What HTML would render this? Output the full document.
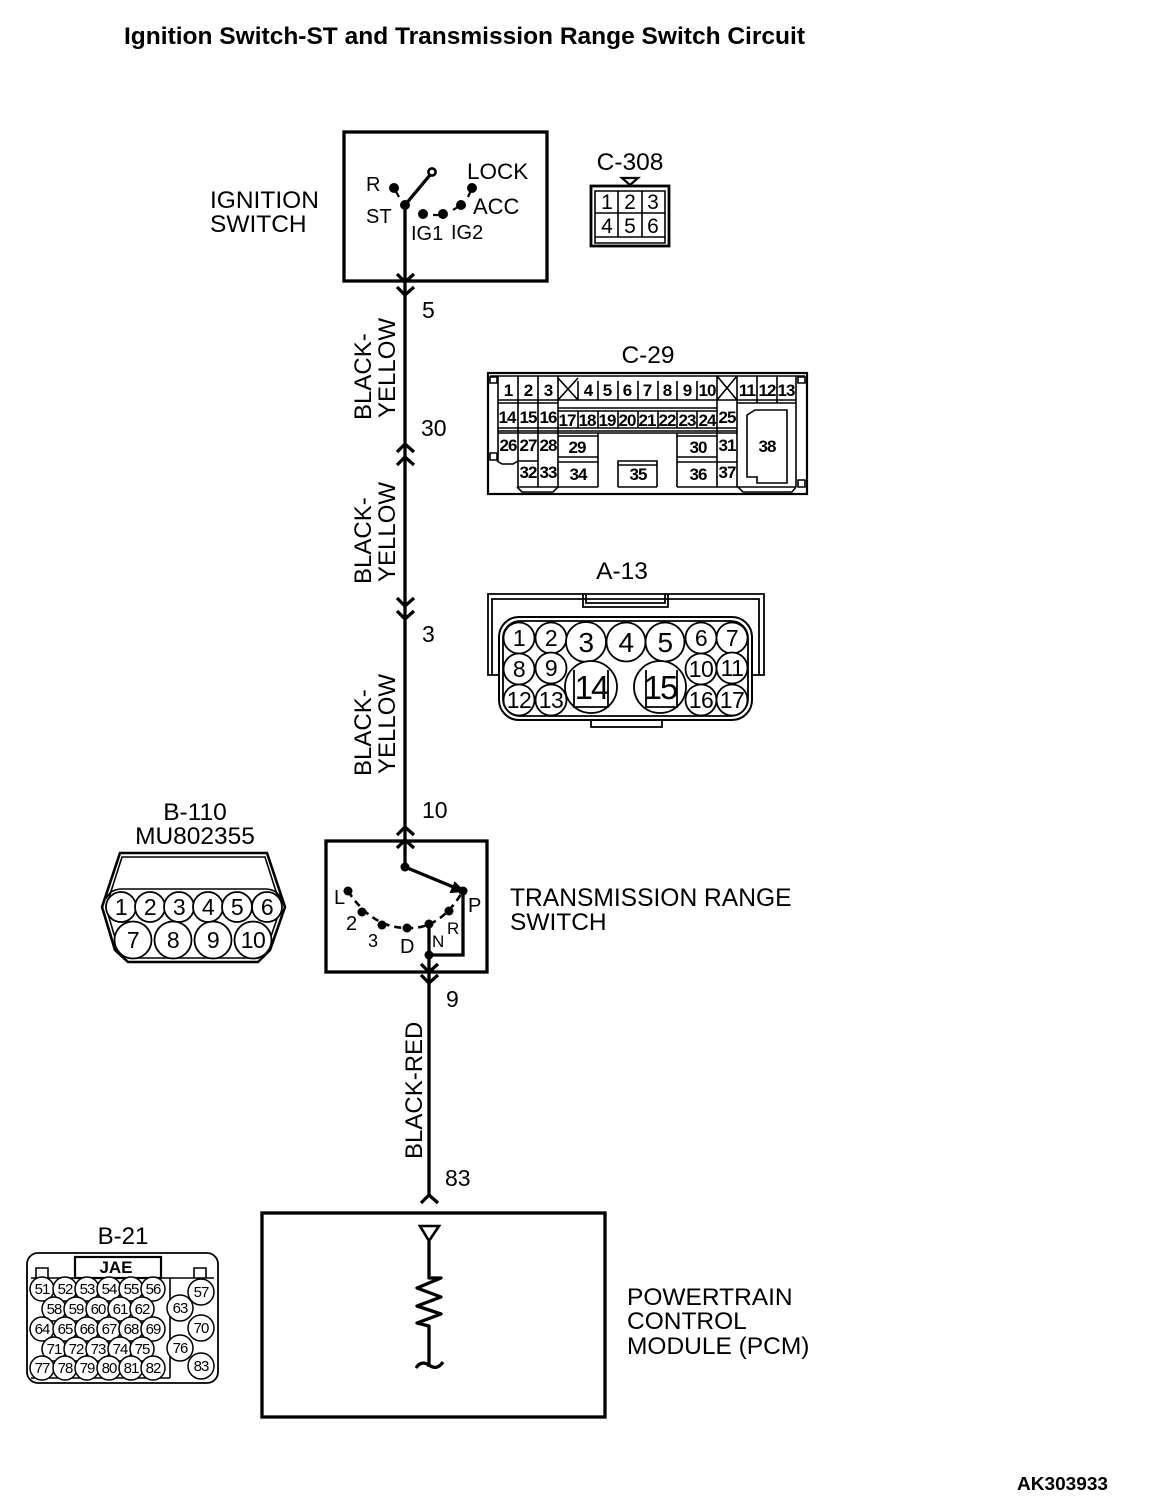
<!DOCTYPE html>
<html><head><meta charset="utf-8"><style>
html,body{margin:0;padding:0;background:#fff}
svg{display:block}
text{font-family:"Liberation Sans",sans-serif;fill:#000;stroke:none}
.m{text-anchor:middle}
.l{font-size:24.5px}
.s{font-size:20px}
.n{font-size:17px;font-weight:bold;text-anchor:middle;letter-spacing:-.9px}
.a{font-size:23px;text-anchor:middle;letter-spacing:-.6px}
.b{font-size:15px;text-anchor:middle;letter-spacing:-1px}
.w{fill:none;stroke:#000;stroke-width:3.3}
.t{fill:none;stroke:#000;stroke-width:2.2}
.h{fill:none;stroke:#000;stroke-width:1.6}
.c{fill:none;stroke:#000;stroke-width:1.8}
</style></head><body>
<svg width="1152" height="1506" viewBox="0 0 1152 1506" xmlns="http://www.w3.org/2000/svg">
<text x="124" y="44" font-size="24" font-weight="bold" textLength="681" lengthAdjust="spacingAndGlyphs">Ignition Switch-ST and Transmission Range Switch Circuit</text>

<!-- Ignition switch -->
<rect x="344" y="132" width="203" height="149" class="w"/>
<text x="210" y="208" class="l">IGNITION</text>
<text x="210" y="232" class="l">SWITCH</text>
<path d="M405 205V868" class="w"/>
<path d="M405 205L430 175" class="w"/>
<circle cx="432" cy="172" r="3.6" fill="#fff" stroke="#000" stroke-width="2.6"/>
<g fill="#000"><circle cx="394" cy="188" r="5"/><circle cx="405" cy="205" r="5"/><circle cx="423" cy="214" r="5"/><circle cx="443" cy="214" r="5"/><circle cx="461" cy="205" r="5"/><circle cx="472" cy="188" r="5"/></g>
<path d="M394 188L399 197M433 215H442M461 205L453 210M472 188L468 197" class="t"/>
<text x="366" y="191" class="s">R</text>
<text x="467" y="179" font-size="22.5">LOCK</text>
<text x="473" y="214" font-size="22">ACC</text>
<text x="366" y="223" class="s">ST</text>
<text x="411" y="240" class="s">IG1</text>
<text x="451" y="239" class="s">IG2</text>

<!-- Chevrons upper wire -->
<path d="M397 274L405 282L414 274M397 287L405 295L414 287" class="w"/>
<path d="M397 452L405 444L414 452M397 465L405 457L414 465" class="w"/>
<path d="M397 598L405 606L414 598M397 611L405 619L414 611" class="w"/>
<path d="M397 835L405 827L414 835M397 848L405 840L414 848" class="w"/>

<!-- Wire labels -->
<text x="422" y="318" style="font-size:23px">5</text>
<text x="421" y="436" style="font-size:23px">30</text>
<text x="422" y="642" style="font-size:23px">3</text>
<text x="422" y="818" style="font-size:23px">10</text>
<text x="446" y="1007" style="font-size:23px">9</text>
<text x="445" y="1186" style="font-size:23px">83</text>
<g>
<text transform="translate(371,420) rotate(-90)" style="font-size:24px">BLACK-</text>
<text transform="translate(395,418) rotate(-90)" style="font-size:24px">YELLOW</text>
<text transform="translate(371,584) rotate(-90)" style="font-size:24px">BLACK-</text>
<text transform="translate(395,582) rotate(-90)" style="font-size:24px">YELLOW</text>
<text transform="translate(371,776) rotate(-90)" style="font-size:24px">BLACK-</text>
<text transform="translate(395,774) rotate(-90)" style="font-size:24px">YELLOW</text>
<text transform="translate(422,1159) rotate(-90)" style="font-size:24px">BLACK-RED</text>
</g>

<!-- C-308 -->
<text x="630" y="170" class="m" font-size="24.5">C-308</text>
<path d="M622 178H638L630 185Z" class="t"/>
<rect x="591" y="186" width="78" height="60" stroke="#000" stroke-width="2.8" fill="none"/>
<path d="M595 191H665V243H595ZM595 213H665M595 237H665M618 191V237M642 191V237" class="h"/>
<g><text x="607" y="209" class="m" font-size="21">1</text><text x="630" y="209" class="m" font-size="21">2</text><text x="653" y="209" class="m" font-size="21">3</text><text x="607" y="233" class="m" font-size="21">4</text><text x="630" y="233" class="m" font-size="21">5</text><text x="653" y="233" class="m" font-size="21">6</text></g>

<!-- C-29 -->
<text x="648" y="363" class="m" font-size="24.5">C-29</text>
<rect x="488" y="373" width="319" height="121" class="t"/>
<path d="M490 376H805M498 376V461M518 376V487M538 376V487M558 376V487M578 381V400M598 381V400M618 381V400M638 381V400M658 381V400M677 381V400M697 381V400M717 376V487M737 376V487M757 376V403M777 376V403M796 376V487" class="h"/>
<path d="M558 378L578 400M578 378L558 400M717 400L737 376M717 376L737 400" class="h"/>
<path d="M498 400H796M498 403H558M737 403H796M558 408H717M558 411H717M498 428H737M498 431H737M498 433H737" class="h"/>
<path d="M578 411V428M598 411V428M618 411V428M638 411V428M658 411V428M677 411V428M697 411V428" class="h"/>
<path d="M558 436H598M558 457H598M558 462H598M677 436H717M677 457H717M677 462H717M518 461H538M717 462H737M518 487H598M618 487H657M677 487H796" class="h"/>
<path d="M598 433V487M677 433V487M618 487V461H657V487M618 465H657" class="h"/>
<path d="M747 415L755 410H787V483H757V477H747Z" class="h"/>
<path d="M517 487L522 492H553L558 487M738 487L743 492H792L796 487M497 461L502 464H513L518 461" class="h"/>
<path d="M490 377H497V383H490ZM798 377H805V383H798ZM490 453H497V460H490ZM798 480H805V487H798Z" class="h"/>
<g>
<text x="508" y="396" class="n">1</text><text x="528" y="396" class="n">2</text><text x="548" y="396" class="n">3</text>
<text x="588" y="396" class="n">4</text><text x="607" y="396" class="n">5</text><text x="627" y="396" class="n">6</text><text x="647" y="396" class="n">7</text><text x="667" y="396" class="n">8</text><text x="687" y="396" class="n">9</text><text x="707" y="396" class="n">10</text>
<text x="747" y="396" class="n">11</text><text x="767" y="396" class="n">12</text><text x="786" y="396" class="n">13</text>
<text x="507" y="423" class="n">14</text><text x="528" y="423" class="n">15</text><text x="548" y="423" class="n">16</text>
<text x="567" y="426" class="n">17</text><text x="587" y="426" class="n">18</text><text x="607" y="426" class="n">19</text><text x="627" y="426" class="n">20</text><text x="647" y="426" class="n">21</text><text x="667" y="426" class="n">22</text><text x="687" y="426" class="n">23</text><text x="707" y="426" class="n">24</text><text x="727" y="423" class="n">25</text>
<text x="508" y="451" class="n">26</text><text x="528" y="451" class="n">27</text><text x="548" y="451" class="n">28</text>
<text x="577" y="453" class="n">29</text><text x="698" y="453" class="n">30</text><text x="727" y="451" class="n">31</text><text x="767" y="452" class="n">38</text>
<text x="528" y="478" class="n">32</text><text x="548" y="478" class="n">33</text><text x="578" y="480" class="n">34</text><text x="638" y="480" class="n">35</text><text x="698" y="480" class="n">36</text><text x="727" y="478" class="n">37</text>
</g>

<!-- A-13 -->
<text x="622" y="579" class="m" font-size="24.5">A-13</text>
<path d="M498 675H488V594H764V675H752M498 675H492V599H759V675H752" class="c"/>
<path d="M583 594V607H668V594M586 594V603H665V594" class="c"/>
<rect x="499" y="617" width="253" height="103" rx="20" fill="#fff" stroke="#000" stroke-width="2"/>
<rect x="503" y="621" width="245" height="95" rx="17" class="c"/>
<rect x="591" y="720" width="71" height="7" class="c"/>
<g fill="#fff" stroke="#000" stroke-width="1.8">
<circle cx="519" cy="638" r="15.5"/><circle cx="551" cy="638" r="15.5"/><circle cx="586" cy="642" r="20"/><circle cx="626" cy="642" r="19.5"/><circle cx="665" cy="642" r="19.5"/><circle cx="701" cy="638" r="15.5"/><circle cx="732" cy="638" r="15.5"/>
<circle cx="519" cy="669" r="15.5"/><circle cx="551" cy="668" r="15.5"/><circle cx="701" cy="669" r="15.5"/><circle cx="732" cy="668" r="15.5"/>
<circle cx="519" cy="700" r="15.5"/><circle cx="551" cy="700" r="15.5"/><circle cx="701" cy="700" r="15.5"/><circle cx="732" cy="700" r="15.5"/>
<circle cx="591" cy="687" r="26"/><circle cx="660" cy="687" r="26"/>
</g>
<path d="M574 670V707H608V670M646 670V707H677V670" class="c"/>
<g>
<text x="519" y="646" class="a">1</text><text x="551" y="646" class="a">2</text><text x="586" y="652" class="a" style="font-size:28px">3</text><text x="626" y="652" class="a" style="font-size:28px">4</text><text x="665" y="652" class="a" style="font-size:28px">5</text><text x="701" y="646" class="a">6</text><text x="732" y="646" class="a">7</text>
<text x="519" y="677" class="a">8</text><text x="551" y="676" class="a">9</text><text x="701" y="677" class="a">10</text><text x="732" y="676" class="a">11</text>
<text x="519" y="708" class="a">12</text><text x="551" y="708" class="a">13</text><text x="701" y="708" class="a">16</text><text x="732" y="708" class="a">17</text>
<text x="591" y="699" class="a" style="font-size:33px;letter-spacing:-2px">14</text><text x="660" y="699" class="a" style="font-size:33px;letter-spacing:-2px">15</text>
</g>

<!-- B-110 -->
<text x="195" y="820" class="m" font-size="24.5">B-110</text>
<text x="195" y="844" class="m" font-size="24.5">MU802355</text>
<path d="M120 853H267L285 907L270 950L258 962H128L115 950L102 907Z" fill="none" stroke="#000" stroke-width="2.6"/>
<path d="M122 857H265L281 907L267 948L256 958H130L118 948L106 907Z" class="h"/>
<path d="M106 899Q110 889 122 889H265Q277 889 281 899" class="h"/>
<g fill="#fff" stroke="#000" stroke-width="1.8">
<circle cx="121" cy="907" r="15"/><circle cx="150" cy="907" r="15"/><circle cx="179" cy="907" r="15"/><circle cx="208" cy="907" r="15"/><circle cx="237" cy="907" r="15"/><circle cx="267" cy="907" r="15"/>
<circle cx="133" cy="940" r="18.5"/><circle cx="173" cy="940" r="18.5"/><circle cx="213" cy="940" r="18.5"/><circle cx="253" cy="940" r="18.5"/>
</g>
<g>
<text x="121" y="915" class="a">1</text><text x="150" y="915" class="a">2</text><text x="179" y="915" class="a">3</text><text x="208" y="915" class="a">4</text><text x="237" y="915" class="a">5</text><text x="267" y="915" class="a">6</text>
<text x="133" y="948" class="a">7</text><text x="173" y="948" class="a">8</text><text x="213" y="948" class="a">9</text><text x="253" y="948" class="a">10</text>
</g>

<!-- Transmission range switch -->
<rect x="326" y="841" width="161" height="131" class="w"/>
<text x="510" y="906" class="l" style="font-size:24.6px">TRANSMISSION RANGE</text>
<text x="510" y="930" class="l">SWITCH</text>
<path d="M405 867L463 891" class="w"/>
<path d="M463 891V955H429" class="w"/>
<path d="M429 924V1195" class="w"/>
<path d="M455 883L463 891L451 892Z" fill="#000" stroke="#000" stroke-width="2"/>
<path d="M348 891Q372 928 407 928Q440 930 463 891" fill="none" stroke="#000" stroke-width="2.6" stroke-dasharray="7 5"/>
<g fill="#000"><circle cx="405" cy="867" r="4.5"/><circle cx="348" cy="891" r="4.5"/><circle cx="362" cy="912" r="4.5"/><circle cx="382" cy="925" r="4.5"/><circle cx="407" cy="928" r="4.5"/><circle cx="429" cy="924" r="4.5"/><circle cx="449" cy="911" r="4.5"/><circle cx="463" cy="891" r="4.5"/><circle cx="429" cy="955" r="4.5"/></g>
<text x="334" y="904" class="s">L</text>
<text x="346" y="930" class="s">2</text>
<text x="368" y="947" style="font-size:18px">3</text>
<text x="400" y="953" class="s">D</text>
<text x="432" y="947" style="font-size:17px">N</text>
<text x="447" y="934" style="font-size:17px">R</text>
<text x="468" y="912" class="s">P</text>
<path d="M421 964L429 972L438 964M421 975L429 983L438 975" class="w"/>

<!-- PCM -->
<path d="M421 1203L429 1195L438 1203" class="w"/>
<rect x="262" y="1213" width="343" height="204" class="w"/>
<path d="M420 1226H439L429 1241Z" class="w" style="stroke-width:2.6"/>
<path d="M429 1241V1278H441L417 1288L441 1297L417 1306L441 1314L417 1323L429 1326V1367" class="w" stroke-linejoin="round"/>
<path d="M416 1368Q421 1360 429 1365Q437 1371 443 1362" class="w"/>
<text x="627" y="1305" class="l">POWERTRAIN</text>
<text x="627" y="1329" class="l">CONTROL</text>
<text x="627" y="1354" class="l">MODULE (PCM)</text>

<!-- B-21 -->
<text x="123" y="1244" class="m" font-size="24">B-21</text>
<rect x="27" y="1253" width="191" height="130" rx="11" class="c"/>
<rect x="75" y="1257" width="86" height="21" class="t"/>
<text x="116" y="1273" class="m" font-size="17" font-weight="bold">JAE</text>
<path d="M36 1278V1268H48V1278M194 1278V1268H206V1278M31 1278H214M170 1278V1378M31 1378H170" class="h"/>
<g fill="#fff" stroke="#000" stroke-width="1.5">
<circle cx="42" cy="1289" r="12"/><circle cx="65" cy="1289" r="12"/><circle cx="87" cy="1289" r="12"/><circle cx="109" cy="1289" r="12"/><circle cx="131" cy="1289" r="12"/><circle cx="153" cy="1289" r="12"/>
<circle cx="54" cy="1309" r="12"/><circle cx="76" cy="1309" r="12"/><circle cx="98" cy="1309" r="12"/><circle cx="120" cy="1309" r="12"/><circle cx="142" cy="1309" r="12"/>
<circle cx="42" cy="1329" r="12"/><circle cx="65" cy="1329" r="12"/><circle cx="87" cy="1329" r="12"/><circle cx="109" cy="1329" r="12"/><circle cx="131" cy="1329" r="12"/><circle cx="153" cy="1329" r="12"/>
<circle cx="54" cy="1349" r="12"/><circle cx="76" cy="1349" r="12"/><circle cx="98" cy="1349" r="12"/><circle cx="120" cy="1349" r="12"/><circle cx="142" cy="1349" r="12"/>
<circle cx="42" cy="1368" r="12"/><circle cx="65" cy="1368" r="12"/><circle cx="87" cy="1368" r="12"/><circle cx="109" cy="1368" r="12"/><circle cx="131" cy="1368" r="12"/><circle cx="153" cy="1368" r="12"/>
<circle cx="201" cy="1292" r="13"/><circle cx="180" cy="1308" r="13"/><circle cx="201" cy="1328" r="13"/><circle cx="180" cy="1348" r="13"/><circle cx="201" cy="1366" r="13"/>
</g>
<g>
<text x="42" y="1294" class="b">51</text><text x="65" y="1294" class="b">52</text><text x="87" y="1294" class="b">53</text><text x="109" y="1294" class="b">54</text><text x="131" y="1294" class="b">55</text><text x="153" y="1294" class="b">56</text>
<text x="54" y="1314" class="b">58</text><text x="76" y="1314" class="b">59</text><text x="98" y="1314" class="b">60</text><text x="120" y="1314" class="b">61</text><text x="142" y="1314" class="b">62</text>
<text x="42" y="1334" class="b">64</text><text x="65" y="1334" class="b">65</text><text x="87" y="1334" class="b">66</text><text x="109" y="1334" class="b">67</text><text x="131" y="1334" class="b">68</text><text x="153" y="1334" class="b">69</text>
<text x="54" y="1354" class="b">71</text><text x="76" y="1354" class="b">72</text><text x="98" y="1354" class="b">73</text><text x="120" y="1354" class="b">74</text><text x="142" y="1354" class="b">75</text>
<text x="42" y="1373" class="b">77</text><text x="65" y="1373" class="b">78</text><text x="87" y="1373" class="b">79</text><text x="109" y="1373" class="b">80</text><text x="131" y="1373" class="b">81</text><text x="153" y="1373" class="b">82</text>
<text x="201" y="1297" class="b">57</text><text x="180" y="1313" class="b">63</text><text x="201" y="1333" class="b">70</text><text x="180" y="1353" class="b">76</text><text x="201" y="1371" class="b">83</text>
</g>

<text x="1017" y="1490" font-size="18" font-weight="bold" textLength="91" lengthAdjust="spacingAndGlyphs">AK303933</text>
</svg>
</body></html>
